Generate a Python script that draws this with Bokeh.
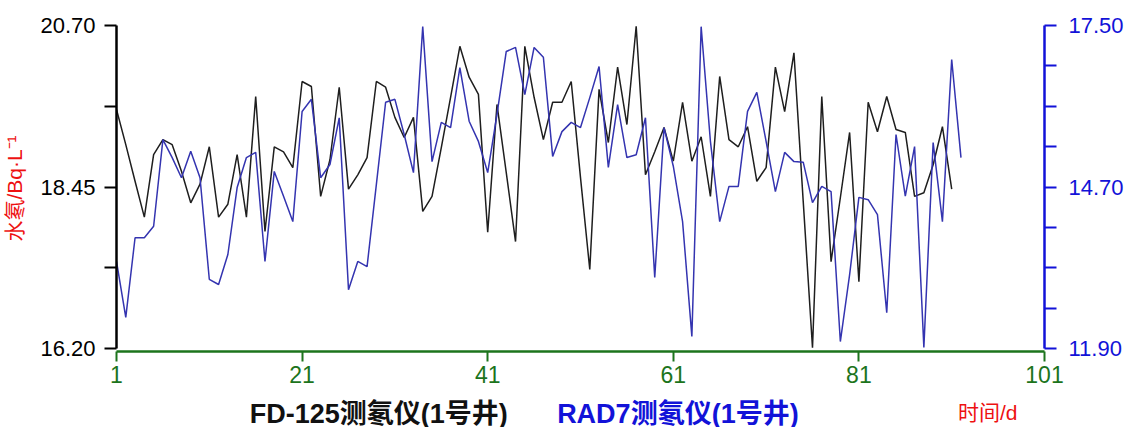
from bokeh.plotting import figure
from bokeh.models import LinearAxis, Range1d, FixedTicker, PrintfTickFormatter
from bokeh.layouts import column
from bokeh.core.properties import value
from bokeh.embed import file_html
from bokeh.resources import INLINE

# ---- data ----
days_fd = list(range(1, 92))
fd125 = [19.53, 19.04, 18.53, 18.03, 18.90, 19.11, 19.04, 18.67, 18.23, 18.49,
         19.01, 18.03, 18.21, 18.90, 18.03, 19.71, 17.83, 19.01, 18.94, 18.72,
         19.92, 19.85, 18.32, 18.83, 19.84, 18.42, 18.62, 18.86, 19.92, 19.84,
         19.42, 19.14, 19.42, 18.11, 18.32, 19.00, 19.70, 20.41, 19.98, 19.74,
         17.82, 19.60, 18.65, 17.69, 20.41, 19.70, 19.11, 19.63, 19.63, 19.92,
         18.58, 17.30, 19.81, 19.07, 20.12, 19.32, 20.69, 18.62, 18.94, 19.28,
         18.81, 19.63, 18.81, 19.15, 18.32, 19.99, 19.11, 19.01, 19.29, 18.53,
         18.72, 20.12, 19.50, 20.32, 18.25, 16.21, 19.71, 17.41, 18.30, 19.21,
         17.13, 19.63, 19.22, 19.71, 19.25, 19.21, 18.32, 18.37, 18.76, 19.29,
         18.42]

days_rad = list(range(1, 93))
rad7 = [13.41, 12.44, 13.82, 13.82, 14.02, 15.52, 15.21, 14.86, 15.32, 14.86,
        13.10, 13.01, 13.53, 14.69, 15.21, 15.30, 13.41, 14.97, 14.54, 14.10,
        16.01, 16.22, 14.86, 15.09, 15.90, 12.92, 13.41, 13.32, 14.74, 16.17,
        16.22, 15.61, 14.95, 17.48, 15.14, 15.82, 15.73, 16.77, 15.84, 15.49,
        14.95, 15.96, 17.05, 17.12, 16.30, 17.12, 16.95, 15.23, 15.66, 15.82,
        15.73, 16.25, 16.79, 15.04, 16.13, 15.21, 15.26, 15.90, 13.13, 15.73,
        15.06, 14.10, 12.11, 17.48, 15.49, 14.10, 14.71, 14.71, 16.01, 16.34,
        15.49, 14.62, 15.30, 15.14, 15.13, 14.43, 14.71, 14.62, 12.02, 13.18,
        14.52, 14.48, 14.22, 12.52, 15.61, 14.54, 15.40, 11.92, 15.47, 14.10,
        16.91, 15.21]

x_ticks = [1, 21, 41, 61, 81, 101]
left_ticks = [16.20, 18.45, 20.70]
left_minor = [17.325, 19.575]
right_ticks = [11.90, 14.70, 17.50]
right_minor = [12.60, 13.30, 14.00, 15.40, 16.10, 16.80]

series_fd_name = "FD-125测氡仪(1号井)"
series_rad_name = "RAD7测氡仪(1号井)"
y_title = "水氡/Bq·L⁻¹"
x_title = "时间/d"

# ---- styling ----
FONT = "Liberation Sans, Noto Sans CJK SC"
GREEN = "#1c741c"
BLUE = "#1212d8"
RED = "#ee1111"
W = 1126
FL, FR = 113, 1046   # frame edges (canvas px)

pad_l = 3 * (20.70 - 16.20) / 323
pad_r = 3 * (17.50 - 11.90) / 323

p = figure(width=W, height=386, output_backend="svg", toolbar_location=None,
           x_range=Range1d(1, 101), y_range=Range1d(16.20 - pad_l, 20.70),
           min_border_left=FL, min_border_right=W - FR, min_border_top=25,
           min_border_bottom=35, outline_line_color=None,
           x_axis_location=None, y_axis_location=None)
p.grid.visible = False
p.extra_y_ranges = {"rad": Range1d(11.90 - pad_r, 17.50)}

p.line(days_fd, fd125, line_color="#1e1e1e", line_width=1.5)
p.line(days_rad, rad7, line_color="#3434b0", line_width=1.5, y_range_name="rad")

# x axis
xa = LinearAxis(ticker=FixedTicker(ticks=x_ticks))
xa.axis_line_color = GREEN
xa.axis_line_width = 2.5
xa.major_tick_line_color = GREEN
xa.major_tick_line_width = 2
xa.major_tick_out = 10
xa.major_tick_in = 0
xa.minor_tick_line_color = None
xa.major_label_text_color = GREEN
xa.major_label_text_font = FONT
xa.major_label_text_font_size = "23px"
xa.major_label_standoff = 4
p.add_layout(xa, "below")

# left axis
ya = LinearAxis(ticker=FixedTicker(ticks=left_ticks, minor_ticks=left_minor),
                formatter=PrintfTickFormatter(format="%.2f"), bounds=(16.20, 20.70))
ya.axis_line_color = "black"
ya.axis_line_width = 2.5
ya.major_tick_line_color = "black"
ya.major_tick_line_width = 2
ya.minor_tick_line_color = "black"
ya.minor_tick_line_width = 2
ya.major_tick_out = 12
ya.major_tick_in = 0
ya.minor_tick_out = 12
ya.minor_tick_in = 0
ya.major_label_text_color = "black"
ya.major_label_text_font = FONT
ya.major_label_text_font_size = "22px"
ya.major_label_standoff = 9
ya.axis_label = y_title
ya.axis_label_text_color = RED
ya.axis_label_text_font = FONT
ya.axis_label_text_font_size = "21px"
ya.axis_label_text_font_style = "normal"
ya.axis_label_standoff = 11
p.add_layout(ya, "left")

# right axis
ra = LinearAxis(y_range_name="rad",
                ticker=FixedTicker(ticks=right_ticks, minor_ticks=right_minor),
                formatter=PrintfTickFormatter(format="%.2f"), bounds=(11.90, 17.50))
ra.axis_line_color = BLUE
ra.axis_line_width = 2.5
ra.major_tick_line_color = BLUE
ra.major_tick_line_width = 2
ra.minor_tick_line_color = BLUE
ra.minor_tick_line_width = 2
ra.major_tick_out = 12
ra.major_tick_in = 0
ra.minor_tick_out = 12
ra.minor_tick_in = 0
ra.major_label_text_color = BLUE
ra.major_label_text_font = FONT
ra.major_label_text_font_size = "22px"
ra.major_label_standoff = 12
p.add_layout(ra, "right")

# legend / x title row (frame aligned with the main plot's frame)
H2 = 41
p2 = figure(width=W, height=H2, output_backend="svg", toolbar_location=None,
            x_range=Range1d(FL, FR), y_range=Range1d(0, H2),
            min_border_left=FL, min_border_right=W - FR, min_border_top=0,
            min_border_bottom=0, outline_line_color=None,
            x_axis_location=None, y_axis_location=None)
p2.grid.visible = False
p2.text(x=[247], y=[14], text=[series_fd_name], text_color="#111111",
        text_font=value(FONT), text_font_size="27px", text_font_style="bold",
        text_align="left", text_baseline="middle")
p2.text(x=[556], y=[14], text=[series_rad_name], text_color=BLUE,
        text_font=value(FONT), text_font_size="27px", text_font_style="bold",
        text_align="left", text_baseline="middle")
p2.text(x=[959], y=[15], text=[x_title], text_color=RED,
        text_font=value(FONT), text_font_size="21px", text_font_style="normal",
        text_align="left", text_baseline="middle")

layout = column(p, p2, spacing=0)
open("out.html", "w").write(file_html(layout, INLINE))
